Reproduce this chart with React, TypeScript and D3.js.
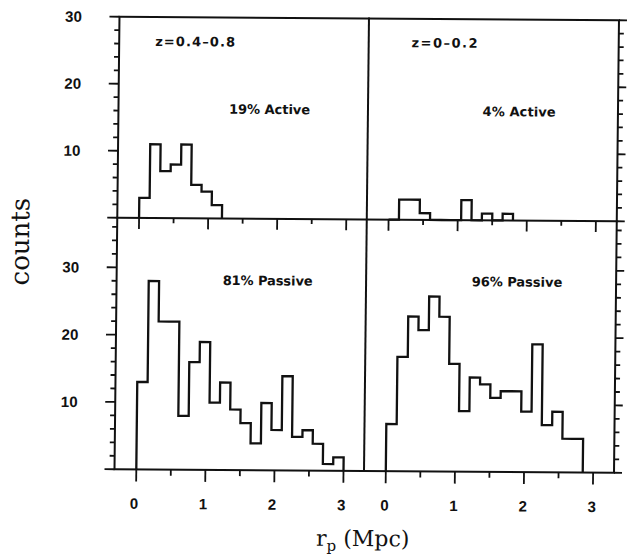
import React from "react";
import * as d3 from "d3";

// ---- data (counts per 0.15 Mpc bin, starting at r_p = 0) ----
const binWidth = 0.15;
const activeHighZ = [3, 11, 7, 8, 11, 5, 4, 2];
const passiveHighZ = [13, 28, 22, 22, 8, 16, 19, 10, 13, 9, 7, 4, 10, 6, 14, 5, 6, 4, 1, 2];
const activeLowZ = [0, 3, 3, 1, 0, 0, 0, 3, 0, 1, 0, 1];
const passiveLowZ = [7, 17, 23, 21, 26, 23, 16, 9, 14, 13, 11, 12, 12, 9, 19, 7, 9, 5, 5];

const xTickValues = [0, 0.5, 1, 1.5, 2, 2.5, 3];
const xTickLabels = [0, 1, 2, 3];
const yTickLabels = [10, 20, 30];
const redshiftLabels = ["z=0.4\u20130.8", "z=0\u20130.2"];
const activeLabels = ["19% Active", "4% Active"];
const passiveLabels = ["81% Passive", "96% Passive"];

// ---- layout ----
const W = 627;
const H = 556;
const L = 117;
const D = 366.5;
const R = 616.5;
const T = 18.5;
const M = 219.5;
const B = 471;

const xLeft = d3.scaleLinear().domain([0, 3]).range([138.8, 346]);
const xRight = d3.scaleLinear().domain([0, 3]).range([388.3, 595.6]);
const yTop = d3.scaleLinear().domain([0, 30]).range([M, T]);
const yBottom = d3.scaleLinear().domain([0, (B - M) / 6.73]).range([B, M]);

const SANS = "'Liberation Sans', Arial, Helvetica, sans-serif";
const WIDE = "'DejaVu Sans', 'Liberation Sans', sans-serif";
const SERIF = "'DejaVu Serif', serif";

function stepPath(counts: number[], x: d3.ScaleLinear<number, number>, y: d3.ScaleLinear<number, number>) {
  const pts: [number, number][] = [[x(0), y(0)]];
  counts.forEach((c, i) => {
    pts.push([x(i * binWidth), y(c)]);
    pts.push([x((i + 1) * binWidth), y(c)]);
  });
  pts.push([x(counts.length * binWidth), y(0)]);
  return d3.line()(pts) || "";
}

export default function App() {
  const topTicks = d3.range(0, 31, 2);
  const botTicks = d3.range(0, yBottom.domain()[1], 2);
  const stroke = "#111";

  const yTickLines: JSX.Element[] = [];
  [
    { ticks: topTicks, y: yTop, key: "t" },
    { ticks: botTicks, y: yBottom, key: "b" },
  ].forEach(({ ticks, y, key }) => {
    ticks.forEach((v) => {
      const major = v % 10 === 0;
      const yy = y(v);
      yTickLines.push(
        <line key={`l${key}${v}`} x1={L} x2={L - (major ? 10 : 5)} y1={yy} y2={yy} />
      );
      yTickLines.push(
        <line key={`r${key}${v}`} x1={R} x2={R + (major ? 8 : 5)} y1={yy} y2={yy} />
      );
    });
  });

  const xTickLines: JSX.Element[] = [];
  [
    { x: xLeft, key: "L" },
    { x: xRight, key: "R" },
  ].forEach(({ x, key }) => {
    xTickValues.forEach((v) => {
      const major = Number.isInteger(v);
      const xx = x(v);
      xTickLines.push(
        <line key={`m${key}${v}`} x1={xx} x2={xx} y1={M} y2={M + (major ? 11 : 5)} />
      );
      xTickLines.push(
        <line key={`b${key}${v}`} x1={xx} x2={xx} y1={B} y2={B + (major ? 12 : 6)} />
      );
    });
  });

  const panelText = (txt: string, cx: number, cy: number, len: number, key: string) => (
    <text
      key={key}
      x={cx - len / 2}
      y={cy}
      dy="0.36em"
      textLength={len}
      lengthAdjust="spacing"
      fontFamily={WIDE}
      fontWeight="bold"
      fontSize={13}
      fill={stroke}
    >
      {txt}
    </text>
  );

  return (
    <svg
      width={W}
      height={H}
      viewBox={`0 0 ${W} ${H}`}
      style={{ position: "absolute", left: 0, top: 0, background: "#fff", display: "block" }}
    >
      <rect x={0} y={0} width={W} height={H} fill="#fff" />
      <g transform="matrix(1,0.007,-0.011,1,2.684,-2.576)">
        {/* frame */}
        <g stroke={stroke} strokeWidth={2} fill="none" strokeLinecap="square">
          <rect x={L} y={T} width={R - L} height={B - T} />
          <line x1={L} x2={R} y1={M} y2={M} />
          <line x1={D} x2={D} y1={T} y2={B} />
        </g>
        <g stroke={stroke} strokeWidth={1.8}>
          {yTickLines}
          {xTickLines}
        </g>

        {/* histograms */}
        <g stroke={stroke} strokeWidth={2.3} fill="none" strokeLinejoin="miter">
          <path d={stepPath(activeHighZ, xLeft, yTop)} />
          <path d={stepPath(passiveHighZ, xLeft, yBottom)} />
          <path d={stepPath(activeLowZ, xRight, yTop)} />
          <path d={stepPath(passiveLowZ, xRight, yBottom)} />
        </g>

        {/* y tick labels */}
        <g fontFamily={SANS} fontWeight="bold" fontSize={15} fill={stroke} textAnchor="middle">
          {yTickLabels.map((v) => (
            <text key={`yt${v}`} x={71} y={yTop(v)} dy="0.36em">
              {v}
            </text>
          ))}
          {yTickLabels.map((v) => (
            <text key={`yb${v}`} x={71} y={yBottom(v)} dy="0.36em">
              {v}
            </text>
          ))}
        </g>

        {/* x tick labels */}
        <g fontFamily={SANS} fontWeight="bold" fontSize={15} fill={stroke} textAnchor="middle">
          {xTickLabels.map((v) => (
            <text key={`xl${v}`} x={xLeft(v) - 2} y={B + 39.5}>
              {v}
            </text>
          ))}
          {xTickLabels.map((v) => (
            <text key={`xr${v}`} x={xRight(v) - 1} y={B + 39.5}>
              {v}
            </text>
          ))}
        </g>

        {/* panel annotations */}
        {panelText(redshiftLabels[0], 193, 42.8, 80, "z1")}
        {panelText(redshiftLabels[1], 442.3, 42.3, 66, "z2")}
        {panelText(activeLabels[0], 268.2, 110, 81, "a1")}
        {panelText(activeLabels[1], 517.7, 110.6, 73, "a2")}
        {panelText(passiveLabels[0], 268.1, 281.3, 90, "p1")}
        {panelText(passiveLabels[1], 517.4, 280.8, 90.6, "p2")}

        {/* axis titles */}
        <text
          transform={`translate(29,244) rotate(-90)`}
          textAnchor="middle"
          fontFamily={SERIF}
          fontSize={26}
          fill={stroke}
        >
          counts
        </text>
        <text x={366} y={546} textAnchor="middle" fontFamily={SERIF} fontSize={22} fill={stroke}>
          <tspan>r</tspan>
          <tspan dy={5} fontSize={15}>p</tspan>
          <tspan dy={-5}>{"\u00a0(Mpc)"}</tspan>
        </text>
      </g>
    </svg>
  );
}
